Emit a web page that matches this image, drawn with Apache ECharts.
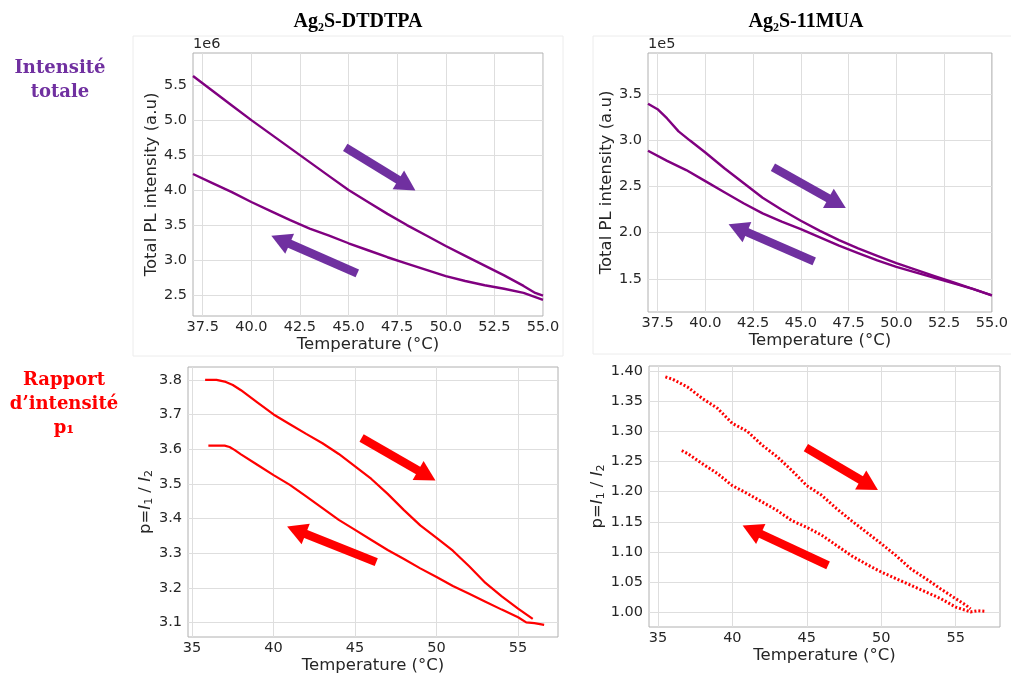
<!DOCTYPE html>
<html><head><meta charset="utf-8">
<script src="https://cdn.jsdelivr.net/npm/echarts@6/dist/echarts.min.js"></script>
<style>html,body{margin:0;padding:0;background:#fff}#c{width:1011px;height:675px}</style>
</head><body><div id="c"></div>
<script>
// ---- Data ----
// Top-left: Ag2S-DTDTPA total PL intensity (x 1e6 a.u.)
const tlTempHeat = [37.0,38,39,40,41,42,43,44,45,46,47,48,49,50,51,52,53,54,54.6,55];
const tlHeat     = [5.63,5.42,5.21,5.00,4.80,4.60,4.40,4.20,4.00,3.83,3.66,3.50,3.35,3.20,3.06,2.92,2.78,2.63,2.53,2.49];
const tlTempCool = [37.0,38,39,40,41,42,43,44,45,46,47,48,49,50,51,52,53,54,55];
const tlCool     = [4.23,4.10,3.97,3.83,3.70,3.57,3.45,3.35,3.24,3.14,3.04,2.95,2.86,2.77,2.70,2.64,2.59,2.53,2.43];
// Top-right: Ag2S-11MUA total PL intensity (x 1e5 a.u.)
const trTempHeat = [37.0,37.5,38,38.6,39.2,40,41,42,43,44,45,46,47,48,49,50,51,52,53,54,55];
const trHeat     = [3.40,3.34,3.24,3.10,3.00,2.87,2.70,2.54,2.38,2.25,2.13,2.02,1.92,1.83,1.75,1.67,1.60,1.53,1.46,1.39,1.32];
const trTempCool = [37.0,38,39,40,41,42,43,44,45,46,47,48,49,50,51,52,53,54,55];
const trCool     = [2.89,2.78,2.68,2.56,2.44,2.32,2.21,2.12,2.04,1.95,1.86,1.78,1.70,1.63,1.57,1.51,1.45,1.39,1.32];
// Bottom-left: Ag2S-DTDTPA ratio p = I1/I2
const blTempHeat = [35.8,36.5,37,37.5,38,39,40,41,42,43,44,45,46,47,48,49,50,51,52,53,54,55,55.9];
const blHeat     = [3.80,3.80,3.795,3.785,3.77,3.735,3.70,3.672,3.644,3.617,3.586,3.55,3.514,3.471,3.424,3.38,3.344,3.307,3.262,3.214,3.175,3.14,3.11];
const blTempCool = [36.0,37,37.3,37.6,38,39,40,41,42,43,44,45,46,47,48,49,50,51,52,53,54,55,55.5,56,56.6];
const blCool     = [3.61,3.61,3.606,3.598,3.585,3.555,3.525,3.497,3.464,3.43,3.396,3.367,3.338,3.309,3.283,3.256,3.231,3.205,3.183,3.16,3.137,3.115,3.10,3.098,3.093];
// Bottom-right: Ag2S-11MUA ratio p = I1/I2
const brTempHeat = [35.5,36,37,38,39,40,41,42,43,44,45,46,47,48,49,50,51,52,53,54,55,55.7,56];
const brHeat     = [1.390,1.386,1.373,1.354,1.338,1.313,1.300,1.277,1.258,1.235,1.210,1.194,1.172,1.152,1.133,1.114,1.094,1.072,1.056,1.039,1.023,1.012,1.006];
const brTempCool = [36.6,37,38,39,40,41,42,43,44,45,46,47,48,49,50,51,52,53,54,55,56,56.5,57];
const brCool     = [1.268,1.263,1.246,1.230,1.210,1.197,1.183,1.169,1.152,1.141,1.128,1.111,1.094,1.080,1.067,1.056,1.045,1.034,1.023,1.009,1.001,1.003,1.002];

// Tick labels
const topXTicks = [37.5,40.0,42.5,45.0,47.5,50.0,52.5,55.0];
const tlYTicks  = [2.5,3.0,3.5,4.0,4.5,5.0,5.5];
const trYTicks  = [1.5,2.0,2.5,3.0,3.5];
const botXTicks = [35,40,45,50,55];
const blYTicks  = [3.1,3.2,3.3,3.4,3.5,3.6,3.7,3.8];
const brYTicks  = [1.00,1.05,1.10,1.15,1.20,1.25,1.30,1.35,1.40];

// Direction arrows (data coordinates) [x1,y1,x2,y2]
const tlArrows = [[44.83,4.61,48.0,4.07],[45.45,2.81,41.5,3.29]];
const trArrows = [[43.54,2.71,46.9,2.32],[45.7,1.69,41.7,2.05]];
const blArrows = [[45.4,3.632,49.4,3.524],[46.3,3.274,41.4,3.366]];
const brArrows = [[44.94,1.273,49.2,1.211],[46.43,1.078,41.3,1.137]];

// ---- Build ----
const zip = (xs, ys) => xs.map((x, i) => [x, ys[i]]);
const PURPLE = '#800080', APURPLE = '#7030a0', RED = '#ff0000';
const tickFont = {fontFamily: 'DejaVu Sans', fontSize: 14.5, color: '#262626'};
const nameFont = {fontFamily: 'DejaVu Sans', fontSize: 16.5, color: '#262626'};

function xAxis(gi, min, max, ticks, dec, gap) {
  return {
    type: 'value', gridIndex: gi, min, max,
    axisLine: {show: false},
    axisTick: {show: false, customValues: ticks},
    axisLabel: Object.assign({customValues: ticks, margin: 4, formatter: v => v.toFixed(dec)}, tickFont),
    splitLine: {show: true, lineStyle: {color: '#dedede', width: 1}},
    name: 'Temperature (°C)', nameLocation: 'middle', nameGap: gap, nameTextStyle: nameFont
  };
}
function yAxis(gi, min, max, ticks, dec, name, gap, rich) {
  return {
    type: 'value', gridIndex: gi, min, max,
    axisLine: {show: false},
    axisTick: {show: false, customValues: ticks},
    axisLabel: Object.assign({customValues: ticks, margin: 6, formatter: v => v.toFixed(dec)}, tickFont),
    splitLine: {show: true, lineStyle: {color: '#dedede', width: 1}},
    name, nameLocation: 'middle', nameGap: gap,
    nameTextStyle: Object.assign({}, nameFont, rich ? {rich} : {})
  };
}
function arrows(list, color) {
  return {
    silent: true, symbol: ['none', 'triangle'], symbolSize: [22, 20],
    label: {show: false}, emphasis: {disabled: true},
    lineStyle: {color, width: 8.5, type: 'solid'}, itemStyle: {color},
    animation: false,
    data: list.map(a => [{coord: [a[0], a[1]]}, {coord: [a[2], a[3]]}])
  };
}
function line(gi, data, color, width, type, ml) {
  const s = {
    type: 'line', xAxisIndex: gi, yAxisIndex: gi, data, showSymbol: false,
    smooth: false, lineStyle: {color, width, type}, itemStyle: {color},
    animation: false, silent: true
  };
  if (ml) s.markLine = ml;
  return s;
}

const pRich = {
  i: {fontFamily: 'DejaVu Sans', fontStyle: 'italic', fontSize: 16.5, color: '#262626'},
  s: {fontFamily: 'DejaVu Sans', fontSize: 11, color: '#262626', verticalAlign: 'bottom', padding: [7, 0, 0, 0]}
};
const pName = 'p={i|I}{s|1} / {i|I}{s|2}';

const chart = echarts.init(document.getElementById('c'), null, {renderer: 'canvas'});
const gridStyle = {show: true, borderColor: '#b0b0b0', borderWidth: 1, backgroundColor: '#fff'};
chart.setOption({
  backgroundColor: '#fff',
  animation: false,
  grid: [
    Object.assign({left: 193, top: 53, width: 350, height: 263}, gridStyle),
    Object.assign({left: 648, top: 53, width: 344, height: 259}, gridStyle),
    Object.assign({left: 188, top: 367, width: 370, height: 270}, gridStyle),
    Object.assign({left: 649, top: 366, width: 351, height: 261}, gridStyle)
  ],
  xAxis: [
    xAxis(0, 37.0, 55.0, topXTicks, 1, 18),
    xAxis(1, 37.0, 55.0, topXTicks, 1, 18),
    xAxis(2, 34.75, 57.45, botXTicks, 0, 18),
    xAxis(3, 34.4, 57.98, botXTicks, 0, 17)
  ],
  yAxis: [
    yAxis(0, 2.2, 5.96, tlYTicks, 1, 'Total PL intensity (a.u)', 27),
    yAxis(1, 1.14, 3.95, trYTicks, 1, 'Total PL intensity (a.u)', 27),
    yAxis(2, 3.058, 3.837, blYTicks, 1, pName, 29, pRich),
    yAxis(3, 0.976, 1.408, brYTicks, 2, pName, 35, pRich)
  ],
  series: [
    line(0, zip(tlTempHeat, tlHeat), PURPLE, 2.4, 'solid', arrows(tlArrows, APURPLE)),
    line(0, zip(tlTempCool, tlCool), PURPLE, 2.4, 'solid'),
    line(1, zip(trTempHeat, trHeat), PURPLE, 2.4, 'solid', arrows(trArrows, APURPLE)),
    line(1, zip(trTempCool, trCool), PURPLE, 2.4, 'solid'),
    line(2, zip(blTempHeat, blHeat), RED, 2.2, 'solid', arrows(blArrows, RED)),
    line(2, zip(blTempCool, blCool), RED, 2.2, 'solid'),
    line(3, zip(brTempHeat, brHeat), RED, 3, [2, 2], arrows(brArrows, RED)),
    line(3, zip(brTempCool, brCool), RED, 3, [2, 2])
  ],
  graphic: [
    {type: 'rect', silent: true, z: -1, shape: {x: 133, y: 36, width: 430, height: 320}, style: {fill: 'none', stroke: '#ececec', lineWidth: 1}},
    {type: 'rect', silent: true, z: -1, shape: {x: 593, y: 36, width: 420, height: 318}, style: {fill: 'none', stroke: '#ececec', lineWidth: 1}},
    {type: 'text', left: 193, top: 37, style: {text: '1e6', font: '14.5px "DejaVu Sans"', fill: '#262626'}},
    {type: 'text', left: 648, top: 37, style: {text: '1e5', font: '14.5px "DejaVu Sans"', fill: '#262626'}},
    {type: 'text', x: 358, y: 22, style: {text: 'Ag₂S-DTDTPA', font: 'bold 20px "Liberation Serif"', fill: '#000', align: 'center', verticalAlign: 'middle'}},
    {type: 'text', x: 806, y: 22, style: {text: 'Ag₂S-11MUA', font: 'bold 20px "Liberation Serif"', fill: '#000', align: 'center', verticalAlign: 'middle'}},
    {type: 'text', x: 60, y: 68, style: {text: 'Intensité', font: 'bold 18px "DejaVu Serif"', fill: APURPLE, align: 'center', verticalAlign: 'middle'}},
    {type: 'text', x: 60, y: 92, style: {text: 'totale', font: 'bold 18px "DejaVu Serif"', fill: APURPLE, align: 'center', verticalAlign: 'middle'}},
    {type: 'text', x: 64, y: 380, style: {text: 'Rapport', font: 'bold 18px "DejaVu Serif"', fill: RED, align: 'center', verticalAlign: 'middle'}},
    {type: 'text', x: 64, y: 404, style: {text: 'd’intensité', font: 'bold 18px "DejaVu Serif"', fill: RED, align: 'center', verticalAlign: 'middle'}},
    {type: 'text', x: 64, y: 428, style: {text: 'p₁', font: 'bold 18px "DejaVu Serif"', fill: RED, align: 'center', verticalAlign: 'middle'}}
  ]
});
</script>
</body></html>
